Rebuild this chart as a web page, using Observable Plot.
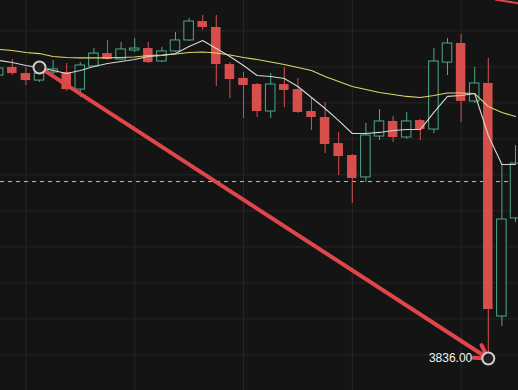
<!DOCTYPE html>
<html><head><meta charset="utf-8">
<script src="https://cdn.jsdelivr.net/npm/d3@7"></script>
<script src="https://cdn.jsdelivr.net/npm/@observablehq/plot@0.6"></script>
<style>html,body{margin:0;padding:0;background:#141414;overflow:hidden}#chart svg{display:block}</style>
</head><body><div id="chart"></div>
<script>
// candle index (bar number)
const bars = d3.range(1, 40);
const opens  = [3993.2,3997.7,3994.3,3990.4,3994.9,3994.9,3985.4,3998.2,4005.4,4002.1,4007.1,4008.2,4001.0,4006.6,4012.7,4023.2,4019.9,3999.3,3991.6,3988.2,3973.2,3988.2,3985.4,3973.2,3969.9,3955.4,3948.8,3936.6,3959.3,3967.7,3958.8,3968.2,3963.2,4000.4,4011.0,3978.8,3988.8,3859.3,3913.8];
const highs  = [3999.3,4002.1,3997.7,3997.7,4001.6,3999.9,4000.4,4008.2,4012.7,4011.6,4013.8,4011.6,4008.8,4017.1,4024.9,4026.6,4026.6,4000.4,3994.9,3988.8,3994.3,3997.7,3991.6,3981.0,3978.2,3961.6,3949.3,3966.6,3974.3,3970.4,3972.7,3968.8,4008.2,4013.8,4016.0,3997.7,4002.7,3944.3,3954.3];
const lows   = [3991.6,3993.2,3987.7,3989.3,3993.8,3984.3,3981.0,3997.7,4001.6,4001.6,4006.0,3999.9,4000.4,4006.0,4012.1,4018.2,3987.1,3980.4,3969.3,3969.9,3969.3,3975.4,3972.1,3962.7,3949.9,3937.7,3922.1,3933.8,3957.1,3956.0,3957.7,3957.1,3961.0,3993.2,3967.1,3977.7,3836.0,3853.8,3911.6];
const closes = [3997.1,3994.3,3990.4,3994.3,3996.6,3985.4,3998.8,4005.4,4002.1,4007.7,4008.2,4000.4,4006.6,4012.7,4023.2,4019.9,3999.3,3991.0,3987.7,3973.2,3988.2,3984.9,3972.7,3969.9,3954.9,3948.2,3936.0,3959.9,3967.7,3958.8,3967.7,3963.2,4001.0,4011.0,3978.8,3988.8,3863.2,3913.2,3944.3];
// moving averages
const maFast = [4001.6,4000.4,3998.8,3997.7,3996.0,3994.3,3996.0,3998.2,3999.9,4001.0,4002.1,4003.8,4004.3,4005.4,4009.3,4012.7,4008.2,4003.8,3998.8,3993.2,3992.7,3991.6,3987.1,3981.0,3974.9,3968.2,3961.0,3961.0,3961.6,3962.7,3963.2,3963.2,3972.7,3981.6,3982.1,3983.2,3959.9,3943.8,3943.8];
const maSlow = [4007.7,4007.1,4006.0,4005.4,4003.8,4003.2,4003.0,4003.0,4003.0,4003.2,4003.5,4004.3,4004.6,4005.2,4006.0,4006.3,4005.7,4004.6,4003.2,4002.1,4000.7,3999.3,3997.7,3996.0,3992.7,3989.9,3987.1,3985.4,3983.8,3982.7,3981.6,3981.0,3982.1,3983.5,3983.5,3983.2,3976.0,3972.7,3970.4];
// reference levels
const gridPrices = [4018,3998,3978,3958,3938,3918,3898,3878,3858,3838];
const gridBars = [3, 11, 19, 27, 35];
const dashedLevel = [3934.3];
// drawn arrow annotation
const arrowFrom = {bar: 4, price: 3997.7};
const arrowTo = {bar: 37, price: 3836.0};
const arrowLabel = "3836.00";
const strayLine = {bar1: 37.5, price1: 4035.4, bar2: 39.5, price2: 4033.0};

const candles = bars.map((b, k) => ({bar: b, open: opens[k], high: highs[k], low: lows[k], close: closes[k], up: closes[k] >= opens[k]}));
const fast = bars.map((b, k) => ({bar: b, v: maFast[k]}));
const slow = bars.map((b, k) => ({bar: b, v: maSlow[k]}));

const BG = "#141414", RED = "#d64f4c", GREEN = "#4bab8a", ARROW = "#e0454a";
const half = 0.35;

const chart = Plot.plot({
  width: 518, height: 390, margin: 0,
  style: {background: BG, overflow: "hidden"},
  x: {type: "linear", domain: [0, 40], range: [-15.4, 528.6], axis: null},
  y: {domain: [3818.22, 4034.89], axis: null},
  marks: [
    Plot.ruleY(gridPrices, {stroke: "#262626", strokeWidth: 1}),
    Plot.ruleX(gridBars, {stroke: "#262626", strokeWidth: 1}),
    Plot.ruleY(dashedLevel, {stroke: "#a8cbbb", strokeWidth: 1, strokeDasharray: "4,4"}),
    Plot.ruleX(candles, {x: "bar", y1: "low", y2: "high", stroke: d => d.up ? GREEN : RED, strokeWidth: 1}),
    Plot.rect(candles.filter(d => !d.up), {x1: d => d.bar - half, x2: d => d.bar + half, y1: "open", y2: "close", fill: RED}),
    Plot.rect(candles.filter(d => d.up), {x1: d => d.bar - half, x2: d => d.bar + half, y1: "open", y2: "close", fill: BG, stroke: GREEN, strokeWidth: 1}),
    Plot.line(slow, {x: "bar", y: "v", stroke: "#dcd56a", strokeWidth: 1.1}),
    Plot.line(fast, {x: "bar", y: "v", stroke: "#d6d6d6", strokeWidth: 1.1}),
    Plot.link([strayLine], {x1: "bar1", y1: "price1", x2: "bar2", y2: "price2", stroke: ARROW, strokeWidth: 2}),
    Plot.arrow([{a: arrowFrom, b: arrowTo}], {x1: d => d.a.bar, y1: d => d.a.price, x2: d => d.b.bar, y2: d => d.b.price, stroke: ARROW, strokeWidth: 4, headLength: 5.6, headAngle: 60}),
    Plot.dot([arrowFrom, arrowTo], {x: "bar", y: "price", r: 6, stroke: "#cfcfcf", strokeWidth: 2, fill: "#202020"}),
    Plot.text([arrowTo], {x: "bar", y: "price", text: () => arrowLabel, dx: -16, textAnchor: "end", fill: "#f2f2f2", fontSize: 12, fontFamily: "Liberation Sans, Arial, sans-serif"})
  ]
});
document.getElementById("chart").appendChild(chart);
</script>
</body></html>
